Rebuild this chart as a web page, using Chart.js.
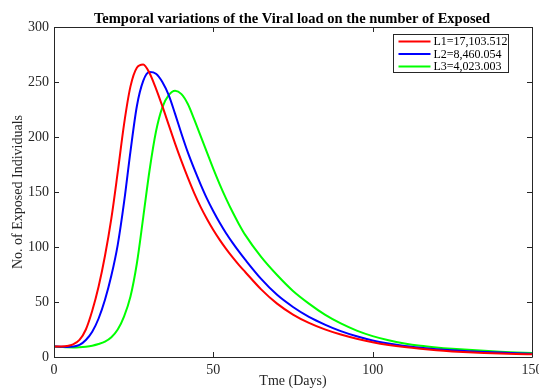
<!DOCTYPE html>
<html>
<head>
<meta charset="utf-8">
<script src="https://cdn.jsdelivr.net/npm/chart.js@4"></script>
<style>
  html, body { margin: 0; padding: 0; background: #fff; }
</style>
</head>
<body>
<canvas id="c" width="539" height="389"></canvas>
<script>
// time axis (days) and the three exposed-population curves
const days = [0, 2, 4, 6, 8, 10, 12, 14, 16, 18, 20, 22, 24, 26, 28, 30, 32, 34, 36, 38, 40,
  42, 44, 46, 48, 50, 52, 54, 56, 58, 60,
  65, 70, 75, 80, 85, 90, 95, 100, 105, 110, 115, 120, 125, 130, 135, 140, 145, 150];

const exposedL1 = [9.5, 9.6, 10, 11.5, 15.5, 25, 42, 64, 92, 126, 168, 212, 246, 263, 266, 258, 244, 228, 211, 194, 178,
  163, 149, 136.5, 125.5, 115.5, 106.5, 98.3, 90.8, 83.8, 77.3,
  61.5, 48.5, 38.6, 31, 25.1, 20.4, 16.6, 13.5, 11, 9, 7.4, 6.1, 5.1, 4.3, 3.7, 3.2, 2.8, 2.5];

const exposedL2 = [9.5, 9.4, 9.2, 9.5, 11, 15.5, 23, 35, 52, 74, 102, 141, 187, 228, 251, 259, 257.5, 250, 238, 221, 203,
  186, 171, 157, 144, 132.5, 122, 112.5, 104, 96, 88.5,
  71, 56.5, 45.5, 36.5, 29.5, 23.5, 18.8, 15, 12.2, 10, 8.4, 7.1, 6.1, 5.3, 4.6, 4, 3.5, 3];

const exposedL3 = [9.5, 9.2, 8.8, 8.7, 8.9, 9.4, 10.3, 11.8, 14, 18, 25, 37, 55, 85, 127, 170, 205, 227, 238, 242, 239,
  230, 216, 201, 186, 171, 157, 144, 132, 121, 111,
  91, 74.5, 60, 48.5, 38.5, 30.5, 24, 19, 15.2, 12.3, 10.2, 8.7, 7.5, 6.5, 5.6, 4.8, 4.2, 3.6];

const seriesLabels = ['L1=17,103.512', 'L2=8,460.054', 'L3=4,023.003'];
const seriesColors = ['#ff0000', '#0000ff', '#00ff00'];

const xTicks = [0, 50, 100, 150];
const yTicks = [0, 50, 100, 150, 200, 250, 300];

const chartTitle = 'Temporal variations of the Viral load on the number of Exposed';
const serif = "'Liberation Serif', 'Times New Roman', serif";
const axisColor = '#262626';

const toPoints = (vals) => days.map((d, i) => ({ x: d, y: vals[i] }));

// matlab-ish box with inward ticks, boxed legend and the title over the axes
const matlabFrame = {
  id: 'matlabFrame',
  afterDatasetsDraw(chart) {
    const { ctx, chartArea: a, scales: { x, y } } = chart;
    const len = 5;
    ctx.save();
    ctx.strokeStyle = axisColor;
    ctx.lineWidth = 1;
    ctx.beginPath();
    ctx.rect(Math.round(a.left) + 0.5, Math.round(a.top) + 0.5,
      Math.round(a.right - a.left), Math.round(a.bottom - a.top));
    xTicks.forEach(v => {
      const px = Math.round(x.getPixelForValue(v)) + 0.5;
      ctx.moveTo(px, a.bottom); ctx.lineTo(px, a.bottom - len);
      ctx.moveTo(px, a.top); ctx.lineTo(px, a.top + len);
    });
    yTicks.forEach(v => {
      const py = Math.round(y.getPixelForValue(v)) + 0.5;
      ctx.moveTo(a.left, py); ctx.lineTo(a.left + len, py);
      ctx.moveTo(a.right, py); ctx.lineTo(a.right - len, py);
    });
    ctx.stroke();

    // title
    ctx.fillStyle = '#000';
    ctx.font = 'bold 14.5px ' + serif;
    ctx.textAlign = 'center';
    ctx.textBaseline = 'middle';
    ctx.fillText(chartTitle, (a.left + a.right) / 2 - 1, a.top - 8);

    // legend
    const bx = Math.round(a.right - 139) + 0.5, by = Math.round(a.top + 7) + 0.5;
    const bw = 115, bh = 38;
    ctx.fillStyle = '#fff';
    ctx.fillRect(bx, by, bw, bh);
    ctx.strokeRect(bx, by, bw, bh);
    ctx.font = '12px ' + serif;
    ctx.textAlign = 'left';
    seriesLabels.forEach((lab, i) => {
      const ly = by + 7 + i * 12.5;
      ctx.strokeStyle = seriesColors[i];
      ctx.lineWidth = 2;
      ctx.beginPath();
      ctx.moveTo(bx + 5, ly); ctx.lineTo(bx + 37, ly);
      ctx.stroke();
      ctx.fillStyle = '#000';
      ctx.fillText(lab, bx + 40, ly + 0.5);
    });
    ctx.restore();
  }
};

new Chart(document.getElementById('c'), {
  type: 'line',
  data: {
    datasets: [0, 1, 2].map(i => ({
      label: seriesLabels[i],
      data: toPoints([exposedL1, exposedL2, exposedL3][i]),
      borderColor: seriesColors[i],
      borderWidth: 2,
      pointRadius: 0,
      fill: false,
      cubicInterpolationMode: 'monotone'
    }))
  },
  options: {
    responsive: false,
    animation: false,
    layout: { padding: { right: 7, left: 0, top: 27, bottom: 0 } },
    plugins: {
      legend: { display: false },
      tooltip: { enabled: false },
      title: { display: false }
    },
    scales: {
      x: {
        type: 'linear',
        min: 0, max: 150,
        afterBuildTicks: s => { s.ticks = xTicks.map(v => ({ value: v })); },
        afterFit: s => { s.height = 32; s.paddingLeft = 0; s.paddingRight = 0; },
        grid: { display: false, drawTicks: false },
        border: { display: false },
        ticks: { color: axisColor, padding: 5, maxRotation: 0, font: { family: serif, size: 14 } },
        title: { display: true, text: 'Tme (Days)', color: axisColor, padding: { top: 0, bottom: -1 }, font: { family: serif, size: 14 } }
      },
      y: {
        min: 0, max: 300,
        afterBuildTicks: s => { s.ticks = yTicks.map(v => ({ value: v })); },
        afterFit: s => { s.width = 54; s.paddingTop = 0; s.paddingBottom = 0; },
        grid: { display: false, drawTicks: false },
        border: { display: false },
        ticks: { color: axisColor, padding: 5, font: { family: serif, size: 14 } },
        title: { display: true, text: 'No. of Exposed Individuals', color: axisColor, padding: { top: 10, bottom: 0 }, font: { family: serif, size: 14 } }
      }
    }
  },
  plugins: [matlabFrame]
});
</script>
</body>
</html>
